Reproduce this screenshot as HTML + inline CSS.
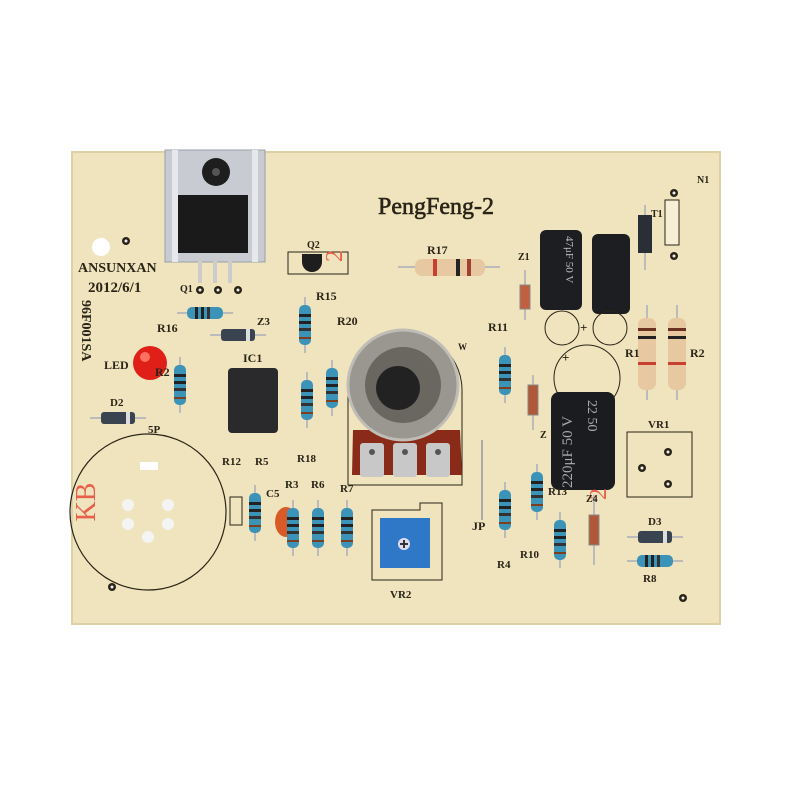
<!DOCTYPE html>
<html><head><meta charset="utf-8"><style>
html,body{margin:0;padding:0;background:#fff;width:800px;height:800px;overflow:hidden}
svg text{font-family:"Liberation Serif",serif;font-weight:bold;fill:#2a2418}
</style></head><body>
<svg width="800" height="800" viewBox="0 0 800 800" xmlns="http://www.w3.org/2000/svg">
<defs>
<g id="rv"><line x1="0" y1="-28" x2="0" y2="28" stroke="#bbb" stroke-width="2"/><rect x="-6" y="-20" width="12" height="40" rx="5" fill="#3c93b8"/><rect x="-6" y="-11" width="12" height="3" fill="#222"/><rect x="-6" y="-4" width="12" height="3" fill="#222"/><rect x="-6" y="3" width="12" height="3" fill="#333"/><rect x="-6" y="12" width="12" height="2" fill="#7a4020"/></g>
<g id="rh"><line x1="-28" y1="0" x2="28" y2="0" stroke="#bbb" stroke-width="2"/><rect x="-18" y="-6" width="36" height="12" rx="5" fill="#3c93b8"/><rect x="-10" y="-6" width="3" height="12" fill="#222"/><rect x="-4" y="-6" width="3" height="12" fill="#222"/><rect x="2" y="-6" width="3" height="12" fill="#333"/></g>
<g id="dh"><line x1="-28" y1="0" x2="28" y2="0" stroke="#bbb" stroke-width="2"/><rect x="-17" y="-6" width="34" height="12" rx="3" fill="#3a4350"/><rect x="8" y="-6" width="4" height="12" fill="#ddd"/></g>
<g id="pad"><circle r="4" fill="#2a2418"/><circle r="1.5" fill="#eee"/></g>
</defs>
<rect x="72" y="152" width="648" height="472" fill="#efe4bd"/>
<rect x="72" y="152" width="648" height="472" fill="none" stroke="#ddd0a5" stroke-width="2"/>
<rect x="165" y="150" width="100" height="112" fill="#c8ccd2" stroke="#9aa0a8"/>
<rect x="172" y="150" width="6" height="112" fill="#e6e8ec"/><rect x="252" y="150" width="6" height="112" fill="#e6e8ec"/>
<circle cx="216" cy="172" r="14" fill="#1e1e1e"/><circle cx="216" cy="172" r="4" fill="#555"/>
<rect x="178" y="195" width="70" height="58" fill="#1a1a1a"/>
<g stroke="#ccc" stroke-width="4"><line x1="200" y1="253" x2="200" y2="283"/><line x1="215" y1="253" x2="215" y2="283"/><line x1="230" y1="253" x2="230" y2="283"/></g>
<use href="#pad" x="200" y="290"/><use href="#pad" x="218" y="290"/><use href="#pad" x="238" y="290"/>
<circle cx="101" cy="247" r="9" fill="#fff"/><use href="#pad" x="126" y="241"/>
<text x="78" y="272" font-size="14">ANSUNXAN</text>
<text x="88" y="292" font-size="15">2012/6/1</text>
<text x="180" y="292" font-size="10">Q1</text>
<text transform="translate(82,300) rotate(90)" font-size="14">96F001SA</text>
<text x="378" y="214" font-size="24" style="font-weight:normal;stroke:#2a2418;stroke-width:0.6">PengFeng-2</text>
<text x="697" y="183" font-size="10">N1</text>
<rect x="288" y="252" width="60" height="22" fill="none" stroke="#2a2418"/>
<text x="307" y="248" font-size="10">Q2</text>
<path d="M302 262 a10 10 0 1 0 20 0 z" fill="#1e1e1e"/><rect x="302" y="254" width="20" height="8" fill="#1e1e1e"/>
<text x="344" y="260" font-size="24" style="fill:#e8604a;font-weight:normal" transform="rotate(-90 344 262)">2</text>
<text x="316" y="300" font-size="12">R15</text><text x="337" y="325" font-size="12">R20</text>
<line x1="398" y1="267" x2="500" y2="267" stroke="#bbb" stroke-width="2"/>
<rect x="415" y="259" width="70" height="17" rx="7" fill="#e8c8a0"/>
<rect x="433" y="259" width="4" height="17" fill="#c84030"/><rect x="456" y="259" width="4" height="17" fill="#222"/><rect x="467" y="259" width="4" height="17" fill="#a04030"/>
<text x="427" y="254" font-size="12">R17</text>
<rect x="540" y="230" width="42" height="80" rx="6" fill="#1c1e22"/>
<rect x="592" y="234" width="38" height="80" rx="6" fill="#1c1e22"/>
<text transform="translate(566,236) rotate(90)" font-size="11" style="fill:#bbb;font-weight:normal">47μF 50 V</text>
<circle cx="562" cy="328" r="17" fill="none" stroke="#2a2418"/><circle cx="610" cy="328" r="17" fill="none" stroke="#2a2418"/>
<text x="580" y="332" font-size="13">+</text>
<rect x="665" y="200" width="14" height="45" fill="#f6efd6" stroke="#2a2418"/>
<use href="#pad" x="674" y="193"/><use href="#pad" x="674" y="256"/>
<line x1="645" y1="205" x2="645" y2="270" stroke="#bbb" stroke-width="2"/><rect x="638" y="215" width="14" height="38" fill="#2a2e36"/>
<text x="651" y="217" font-size="10">T1</text>
<text x="518" y="260" font-size="10">Z1</text>
<line x1="525" y1="270" x2="525" y2="320" stroke="#bbb" stroke-width="2"/><rect x="520" y="285" width="10" height="24" fill="#c06040" stroke="#888"/>
<line x1="647" y1="305" x2="647" y2="400" stroke="#bbb" stroke-width="2"/><line x1="677" y1="305" x2="677" y2="400" stroke="#bbb" stroke-width="2"/>
<rect x="638" y="318" width="18" height="72" rx="7" fill="#e8c8a0"/><rect x="668" y="318" width="18" height="72" rx="7" fill="#e8c8a0"/>
<g fill="#6a3020"><rect x="638" y="328" width="18" height="3"/><rect x="668" y="328" width="18" height="3"/><rect x="638" y="336" width="18" height="3" fill="#222"/><rect x="668" y="336" width="18" height="3" fill="#222"/></g>
<g fill="#c84030"><rect x="638" y="362" width="18" height="3"/><rect x="668" y="362" width="18" height="3"/></g>
<text x="625" y="357" font-size="12">R1</text><text x="690" y="357" font-size="12">R2</text>
<text x="648" y="428" font-size="11">VR1</text>
<rect x="627" y="432" width="65" height="65" fill="none" stroke="#2a2418"/>
<use href="#pad" x="668" y="452"/><use href="#pad" x="642" y="468"/><use href="#pad" x="668" y="484"/>
<circle cx="587" cy="378" r="33" fill="none" stroke="#2a2418"/>
<text x="562" y="362" font-size="13">+</text>
<rect x="551" y="392" width="64" height="98" rx="8" fill="#1a1c20"/>
<text transform="translate(572,488) rotate(-90)" font-size="15" style="fill:#aaa;font-weight:normal">220μF 50 V</text>
<text transform="translate(588,400) rotate(90)" font-size="14" style="fill:#aaa;font-weight:normal">22 50</text>
<path d="M348 485 V390 a57 57 0 0 1 114 0 V485 Z" fill="none" stroke="#2a2418"/>
<text x="458" y="350" font-size="9">W</text>
<path d="M353 430 L460 430 L462 475 L352 475 Z" fill="#8a2a18"/>
<circle cx="403" cy="385" r="55" fill="#9a9690" stroke="#c0bdb7" stroke-width="3"/>
<circle cx="403" cy="385" r="38" fill="#6a6660"/><circle cx="398" cy="388" r="22" fill="#222"/>
<g fill="#c8c8c8"><rect x="360" y="443" width="24" height="34" rx="3"/><rect x="393" y="443" width="24" height="34" rx="3"/><rect x="426" y="443" width="24" height="34" rx="3"/></g>
<g fill="#555"><circle cx="372" cy="452" r="3"/><circle cx="405" cy="452" r="3"/><circle cx="438" cy="452" r="3"/></g>
<circle cx="150" cy="363" r="17" fill="#e02018"/><circle cx="145" cy="357" r="5" fill="#ff7060"/>
<text x="104" y="369" font-size="12">LED</text>
<text x="243" y="362" font-size="12">IC1</text>
<rect x="228" y="368" width="50" height="65" rx="4" fill="#2a2a2c"/>
<use href="#rh" x="205" y="313"/><text x="157" y="332" font-size="12">R16</text>
<use href="#dh" x="238" y="335"/><text x="257" y="325" font-size="11">Z3</text>
<use href="#rv" x="305" y="325"/>
<use href="#rv" x="307" y="400"/><use href="#rv" x="332" y="388"/>
<use href="#rv" x="180" y="385"/><text x="155" y="376" font-size="12">R2</text>
<use href="#dh" x="118" y="418"/><text x="110" y="406" font-size="11">D2</text>
<text x="148" y="433" font-size="11">5P</text>
<text x="297" y="462" font-size="11">R18</text>
<use href="#rv" x="505" y="375"/><text x="488" y="331" font-size="12">R11</text>
<line x1="533" y1="375" x2="533" y2="430" stroke="#bbb" stroke-width="2"/><rect x="528" y="385" width="10" height="30" fill="#b05838" stroke="#888"/>
<text x="540" y="438" font-size="10">Z</text>
<line x1="482" y1="440" x2="482" y2="520" stroke="#aaa" stroke-width="2"/><text x="472" y="530" font-size="12">JP</text>
<use href="#rv" x="255" y="513"/>
<rect x="230" y="497" width="12" height="28" fill="none" stroke="#2a2418"/>
<text x="222" y="465" font-size="11">R12</text><text x="255" y="465" font-size="11">R5</text>
<text x="266" y="497" font-size="11">C5</text>
<ellipse cx="286" cy="522" rx="11" ry="15" fill="#d85a28"/>
<use href="#rv" x="293" y="528"/><use href="#rv" x="318" y="528"/><use href="#rv" x="347" y="528"/>
<text x="285" y="488" font-size="11">R3</text><text x="311" y="488" font-size="11">R6</text><text x="340" y="492" font-size="11">R7</text>
<use href="#rv" x="505" y="510"/><text x="497" y="568" font-size="11">R4</text>
<use href="#rv" x="537" y="492"/><text x="548" y="495" font-size="11">R13</text>
<use href="#rv" x="560" y="540"/><text x="520" y="558" font-size="11">R10</text>
<line x1="594" y1="495" x2="594" y2="565" stroke="#bbb" stroke-width="2"/><rect x="589" y="515" width="10" height="30" fill="#b05838" stroke="#888"/>
<text x="0" y="0" font-size="24" style="fill:#e8604a;font-weight:normal" transform="translate(606,500) rotate(-90)">2</text>
<text x="586" y="502" font-size="10">Z4</text>
<use href="#dh" x="655" y="537"/><text x="648" y="525" font-size="11">D3</text>
<use href="#rh" x="655" y="561"/><text x="643" y="582" font-size="11">R8</text>
<path d="M372 510 H420 V503 H442 V580 H372 Z" fill="none" stroke="#2a2418"/>
<rect x="380" y="518" width="50" height="50" fill="#2f78c8"/>
<circle cx="404" cy="544" r="6" fill="#dde"/><path d="M400 544h8M404 540v8" stroke="#333" stroke-width="2"/>
<text x="390" y="598" font-size="11">VR2</text>
<circle cx="148" cy="512" r="78" fill="none" stroke="#2a2418" stroke-width="1.2"/>
<rect x="140" y="462" width="18" height="8" fill="#fff"/>
<g fill="#f4f4f4"><circle cx="128" cy="505" r="6"/><circle cx="168" cy="505" r="6"/><circle cx="128" cy="524" r="6"/><circle cx="168" cy="524" r="6"/><circle cx="148" cy="537" r="6"/></g>
<text transform="translate(95,502) rotate(-90)" font-size="28" text-anchor="middle" style="fill:#e8604a;font-weight:normal">KB</text>
<use href="#pad" x="112" y="587"/><use href="#pad" x="683" y="598"/>
</svg>
</body></html>
